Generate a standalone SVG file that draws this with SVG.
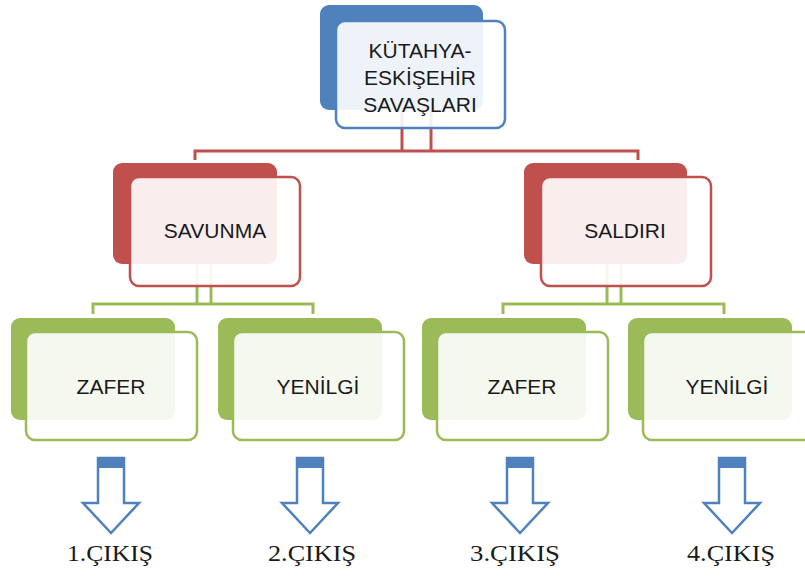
<svg xmlns="http://www.w3.org/2000/svg" width="805" height="578" viewBox="0 0 805 578">
<style>
.bg{fill:#ffffff}
.back{stroke:none}
.front{fill:#ffffff;fill-opacity:0.9;stroke-width:2.5}
.blue .back{fill:#4f81bd}.blue .front{stroke:#4f81bd}
.red .back{fill:#c0504d}.red .front{stroke:#c0504d}
.green .back{fill:#9bbb59}.green .front{stroke:#9bbb59}
.lbl{font-family:"Liberation Sans",Arial,sans-serif;font-size:21px;fill:#1a1a1a;text-anchor:middle}
.out{font-family:"Liberation Serif","Times New Roman",serif;font-size:23px;fill:#1a1a1a;text-anchor:middle}
.cr{fill:none;stroke:#c0504d;stroke-width:3}
.cg{fill:none;stroke:#9bbb59;stroke-width:3}
.arrow{fill:#ffffff;stroke:#4f81bd;stroke-width:2.5;stroke-linejoin:miter}
.band{fill:#4f81bd}
</style>
<rect class="bg" x="0" y="0" width="805" height="578"/>
<g id="connectors">
<path class="cr" d="M402 108V151M431 108V151M195 160V151H638V160"/>
<path class="cg" d="M197 262V304M211 262V304M93 314V304H313V314"/>
<path class="cg" d="M607 262V304M621 262V304M503 314V304H724V314"/>
</g>
<g id="n-top" class="blue">
<rect class="back" x="320" y="5" width="163" height="105" rx="9"/>
<rect class="front" x="336" y="21" width="169" height="107" rx="9"/>
<text class="lbl" x="420" y="58">KÜTAHYA-</text>
<text class="lbl" x="420" y="85">ESKİŞEHİR</text>
<text class="lbl" x="420" y="112">SAVAŞLARI</text>
</g>
<g id="n-savunma" class="red">
<rect class="back" x="113" y="163" width="164" height="101" rx="9"/>
<rect class="front" x="130" y="177" width="170" height="109" rx="9"/>
<text class="lbl" x="215" y="238">SAVUNMA</text>
</g>
<g id="n-saldiri" class="red">
<rect class="back" x="524" y="163" width="163" height="101" rx="9"/>
<rect class="front" x="541" y="177" width="170" height="109" rx="9"/>
<text class="lbl" x="625" y="238">SALDIRI</text>
</g>
<g id="n-zafer1" class="green">
<rect class="back" x="11" y="318" width="164" height="102" rx="9"/>
<rect class="front" x="26" y="332" width="171" height="108" rx="9"/>
<text class="lbl" x="111" y="394">ZAFER</text>
</g>
<g id="n-yenilgi1" class="green">
<rect class="back" x="218" y="318" width="164" height="102" rx="9"/>
<rect class="front" x="233" y="332" width="171" height="108" rx="9"/>
<text class="lbl" x="318" y="394">YENİLGİ</text>
</g>
<g id="n-zafer2" class="green">
<rect class="back" x="422" y="318" width="164" height="102" rx="9"/>
<rect class="front" x="437" y="332" width="171" height="108" rx="9"/>
<text class="lbl" x="522" y="394">ZAFER</text>
</g>
<g id="n-yenilgi2" class="green">
<rect class="back" x="628" y="318" width="164" height="102" rx="9"/>
<rect class="front" x="643" y="332" width="171" height="108" rx="9"/>
<text class="lbl" x="727" y="394">YENİLGİ</text>
</g>
<g id="out1">
<path class="arrow" d="M98 458H124V503H139L111 533L83 503H98Z"/>
<rect class="band" x="98" y="458" width="26" height="10"/>
<text class="out" x="110" y="561" textLength="86" lengthAdjust="spacingAndGlyphs">1.ÇIKIŞ</text>
</g>
<g id="out2">
<path class="arrow" d="M297 458H323V503H338L310 533L282 503H297Z"/>
<rect class="band" x="297" y="458" width="26" height="10"/>
<text class="out" x="312" y="561" textLength="88" lengthAdjust="spacingAndGlyphs">2.ÇIKIŞ</text>
</g>
<g id="out3">
<path class="arrow" d="M507 458H533V503H548L520 533L492 503H507Z"/>
<rect class="band" x="507" y="458" width="26" height="10"/>
<text class="out" x="515" y="561" textLength="90" lengthAdjust="spacingAndGlyphs">3.ÇIKIŞ</text>
</g>
<g id="out4">
<path class="arrow" d="M719 458H745V503H760L732 533L704 503H719Z"/>
<rect class="band" x="719" y="458" width="26" height="10"/>
<text class="out" x="731" y="561" textLength="88" lengthAdjust="spacingAndGlyphs">4.ÇIKIŞ</text>
</g>
</svg>
